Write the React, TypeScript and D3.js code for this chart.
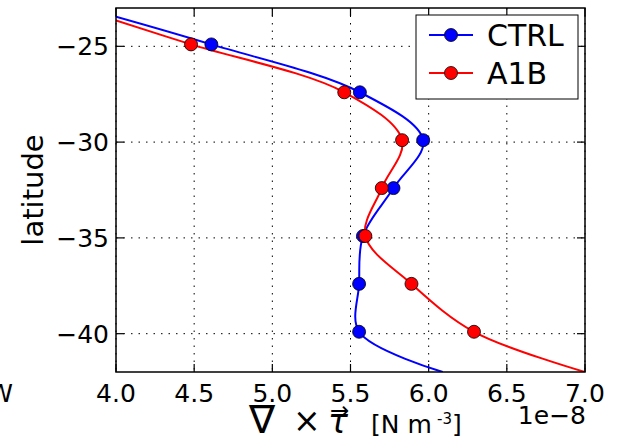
import React from "react";
import * as d3 from "d3";

// Data (latitude in degrees, curl of wind stress in 1e-8 N m^-3)
const LATS = [-24.9, -27.4, -29.9, -32.4, -34.9, -37.4, -39.9];
const CTRL = [4.61, 5.56, 5.965, 5.775, 5.58, 5.555, 5.555];
const A1B = [4.48, 5.46, 5.83, 5.7, 5.595, 5.89, 6.29];
// where the smooth curves leave the axes (lat, value)
const CTRL_TOP = [-23.45, 4.0];
const CTRL_BOTTOM = [-42.0, 6.09];
const A1B_TOP = [-23.65, 4.0];
const A1B_BOTTOM = [-42.0, 7.0];

const X_TICKS = [4.0, 4.5, 5.0, 5.5, 6.0, 6.5, 7.0];
const Y_TICKS = [-25, -30, -35, -40];
const SERIES_NAMES = ["CTRL", "A1B"];
const SERIES_COLORS = ["#0000ff", "#ff0000"];

const W = 621;
const H = 437;
const L = 116;
const R = 585;
const T = 8;
const B = 372;
const FONT = "DejaVu Sans, Bitstream Vera Sans, sans-serif";

export default function App() {
  const x = d3.scaleLinear().domain([4, 7]).range([L, R]);
  const y = d3.scaleLinear().domain([-42, -23]).range([B, T]);

  const series = [
    { vals: CTRL, top: CTRL_TOP, bottom: CTRL_BOTTOM },
    { vals: A1B, top: A1B_TOP, bottom: A1B_BOTTOM },
  ];

  const line = d3
    .line<[number, number]>()
    .x((d) => x(d[1]))
    .y((d) => y(d[0]))
    .curve(d3.curveCatmullRom.alpha(0.5));

  const tickLen = 8;

  return (
    <svg
      width={W}
      height={H}
      style={{ position: "absolute", left: 0, top: 0, background: "#fff" }}
      fontFamily={FONT}
    >
      <rect x={0} y={0} width={W} height={H} fill="#fff" />
      <defs>
        <clipPath id="plotclip">
          <rect x={L} y={T} width={R - L} height={B - T} />
        </clipPath>
      </defs>

      {/* grid */}
      <g stroke="#000" strokeWidth={1} strokeDasharray="1.5,6">
        {X_TICKS.map((t) => (
          <line key={"gx" + t} x1={x(t)} x2={x(t)} y1={T} y2={B} />
        ))}
        {Y_TICKS.map((t) => (
          <line key={"gy" + t} x1={L} x2={R} y1={y(t)} y2={y(t)} />
        ))}
      </g>

      {/* ticks (inward, all sides) */}
      <g stroke="#000" strokeWidth={1.2}>
        {X_TICKS.map((t) => (
          <g key={"tx" + t}>
            <line x1={x(t)} x2={x(t)} y1={B} y2={B - tickLen} />
            <line x1={x(t)} x2={x(t)} y1={T} y2={T + tickLen} />
          </g>
        ))}
        {Y_TICKS.map((t) => (
          <g key={"ty" + t}>
            <line x1={L} x2={L + tickLen} y1={y(t)} y2={y(t)} />
            <line x1={R} x2={R - tickLen} y1={y(t)} y2={y(t)} />
          </g>
        ))}
      </g>

      {/* series */}
      <g clipPath="url(#plotclip)">
        {series.map((s, i) => {
          const pts: [number, number][] = [
            [s.top[0], s.top[1]],
            ...LATS.map((lat, j) => [lat, s.vals[j]] as [number, number]),
            [s.bottom[0], s.bottom[1]],
          ];
          return (
            <path
              key={"l" + i}
              d={line(pts) || ""}
              fill="none"
              stroke={SERIES_COLORS[i]}
              strokeWidth={2}
            />
          );
        })}
        {series.map((s, i) => (
          <g key={"m" + i}>
            {LATS.map((lat, j) => (
              <circle
                key={j}
                cx={x(s.vals[j])}
                cy={y(lat)}
                r={6.5}
                fill={SERIES_COLORS[i]}
                stroke="#000"
                strokeWidth={0.8}
              />
            ))}
          </g>
        ))}
      </g>

      {/* frame */}
      <rect
        x={L}
        y={T}
        width={R - L}
        height={B - T}
        fill="none"
        stroke="#000"
        strokeWidth={1.5}
      />

      {/* tick labels */}
      <g fontSize={25} fill="#000">
        {X_TICKS.map((t) => (
          <text key={"xl" + t} x={x(t)} y={402} textAnchor="middle">
            {t.toFixed(1)}
          </text>
        ))}
        {Y_TICKS.map((t) => (
          <text key={"yl" + t} x={109} y={y(t) + 9} textAnchor="end">
            {"\u2212" + Math.abs(t)}
          </text>
        ))}
        <text x={586} y={424} textAnchor="end">
          1e{"\u2212"}8
        </text>
      </g>

      {/* y label */}
      <text
        transform={`translate(43,${(T + B) / 2}) rotate(-90)`}
        textAnchor="middle"
        fontSize={29}
      >
        latitude
      </text>

      {/* x label: ∇ × τ⃗ [N m^-3] */}
      <g fill="#000">
        <text x={249} y={433} fontSize={39}>
          {"\u2207"}
        </text>
        <text x={293} y={432} fontSize={33}>
          {"\u00d7"}
        </text>
        <text x={328} y={433} fontSize={33} fontStyle="italic">
          {"\u03c4"}
        </text>
        <text x={330} y={418} fontSize={23}>
          {"\u2192"}
        </text>
        <text x={371} y={433} fontSize={25}>
          [N m
        </text>
        <text x={437} y={424} fontSize={15}>
          -3
        </text>
        <text x={452} y={433} fontSize={25}>
          ]
        </text>
      </g>

      {/* cut-off label of neighbouring panel */}
      <text x={13} y={402} fontSize={25} textAnchor="end">
        W
      </text>

      {/* legend */}
      <g>
        <rect x={416} y={15} width={162} height={84} fill="#fff" stroke="#000" strokeWidth={1} />
        {SERIES_NAMES.map((name, i) => {
          const ry = 35 + i * 38;
          return (
            <g key={name}>
              <line x1={429} x2={473} y1={ry} y2={ry} stroke={SERIES_COLORS[i]} strokeWidth={2} />
              <circle cx={451} cy={ry} r={6.5} fill={SERIES_COLORS[i]} stroke="#000" strokeWidth={0.8} />
              <text x={487} y={ry + 10.5} fontSize={30}>
                {name}
              </text>
            </g>
          );
        })}
      </g>
    </svg>
  );
}
